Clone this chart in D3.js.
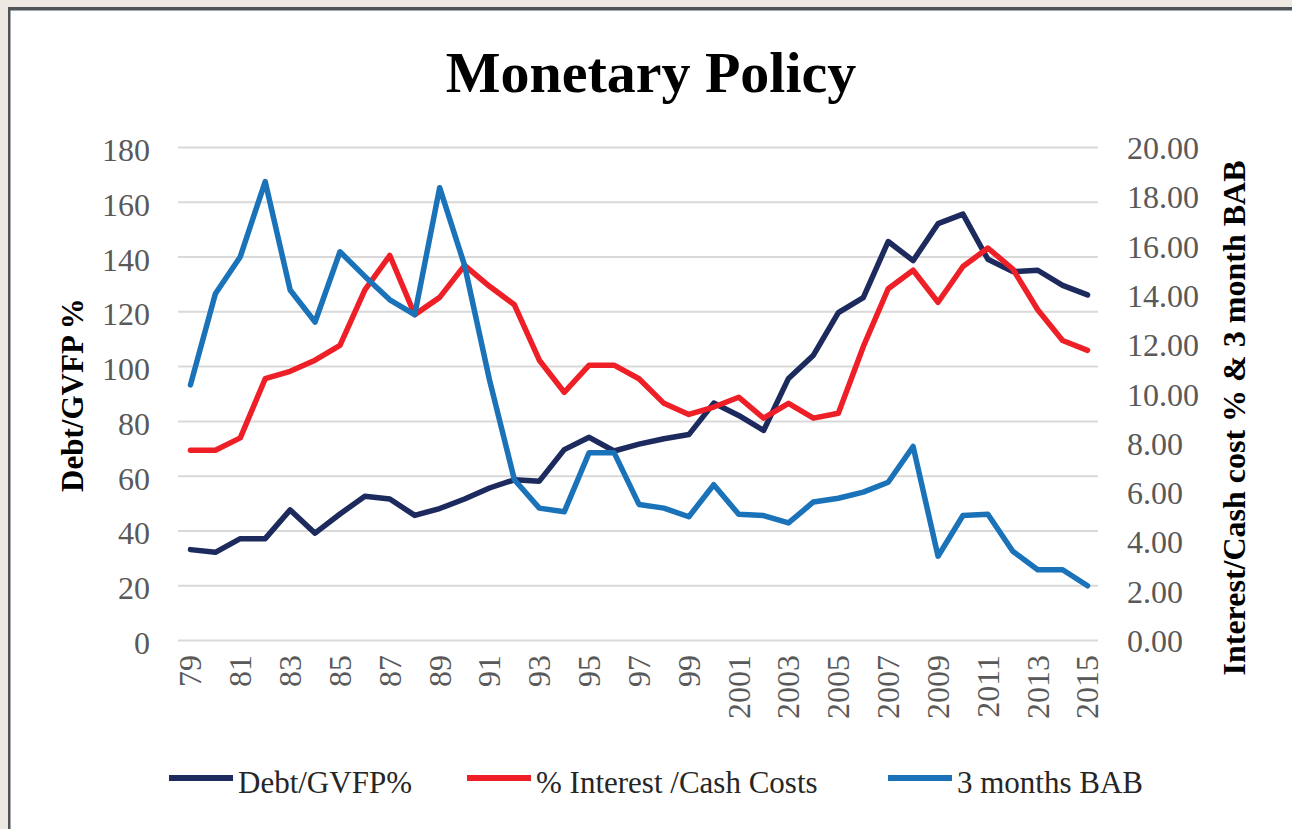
<!DOCTYPE html>
<html>
<head>
<meta charset="utf-8">
<script src="https://cdn.jsdelivr.net/npm/d3@7"></script>
<style>
  body { margin: 0; background: #ede8e1; }
  text { font-family: "Liberation Serif", "Times New Roman", serif; }
  .tick text { fill: #595959; font-size: 32px; }
  .grid line { stroke: #d9d9d9; stroke-width: 2; }
  .series { fill: none; stroke-width: 5.5; stroke-linejoin: round; stroke-linecap: round; }
</style>
</head>
<body>
<div id="chart"></div>
<script>
// ---- Data ----
const years = ["1979", "1980", "1981", "1982", "1983", "1984", "1985", "1986", "1987", "1988",
               "1989", "1990", "1991", "1992", "1993", "1994", "1995", "1996", "1997", "1998",
               "1999", "2000", "2001", "2002", "2003", "2004", "2005", "2006", "2007", "2008",
               "2009", "2010", "2011", "2012", "2013", "2014", "2015"];

// Debt/GVFP% (left axis)
const debt = [33, 32, 37, 37, 47.5, 39, 46, 52.5, 51.5, 45.5,
              48, 51.5, 55.5, 58.5, 58, 69.5, 74, 69, 71.5, 73.5,
              75, 86.5, 82, 76.5, 95.5, 104, 119.5, 125, 145.5, 138.5,
              152, 155.5, 139, 134.5, 135, 129.5, 126];

// % Interest /Cash Costs (right axis)
const interest = [7.7, 7.7, 8.2, 10.6, 10.9, 11.35, 11.95, 14.2, 15.6, 13.2,
                  13.9, 15.2, 14.35, 13.6, 11.35, 10.05, 11.15, 11.15, 10.6, 9.6,
                  9.15, 9.45, 9.85, 9.0, 9.6, 9.0, 9.2, 11.9, 14.25, 15.0,
                  13.7, 15.15, 15.9, 15.05, 13.4, 12.15, 11.75];

// 3 months BAB (right axis)
const bab = [10.35, 14.05, 15.55, 18.6, 14.2, 12.9, 15.75, 14.75, 13.8, 13.2,
             18.35, 15.2, 10.55, 6.5, 5.35, 5.2, 7.6, 7.6, 5.5, 5.35,
             5.0, 6.3, 5.1, 5.05, 4.75, 5.6, 5.75, 6.0, 6.4, 7.85,
             3.4, 5.05, 5.1, 3.6, 2.85, 2.85, 2.2];

const leftTicks = [0, 20, 40, 60, 80, 100, 120, 140, 160, 180];
const rightTicks = [0, 2, 4, 6, 8, 10, 12, 14, 16, 18, 20];
const xTicks = years.filter((y, i) => i % 2 === 0);

// ---- Layout ----
const W = 1292, H = 829;
const plot = { left: 178, right: 1098, top: 147, bottom: 640 };

const colors = { debt: "#1c2a5e", interest: "#ee1f26", bab: "#1a72b9" };

const svg = d3.select("#chart").append("svg")
    .attr("width", W)
    .attr("height", H);

// frame: beige margin, dark edge, white chart area
svg.append("rect").attr("width", W).attr("height", H).attr("fill", "#ede8e1");
svg.append("rect").attr("x", 8).attr("y", 7).attr("width", W - 8).attr("height", H - 7).attr("fill", "#4d5358");
svg.append("rect").attr("x", 10.5).attr("y", 10.5).attr("width", W - 10.5).attr("height", H - 10.5).attr("fill", "#fff");

// ---- Scales ----
const x = d3.scaleBand().domain(years).range([plot.left, plot.right + 2]);
const xc = d => x(d) + x.bandwidth() / 2;
const yLeft = d3.scaleLinear().domain([0, 180]).range([plot.bottom, plot.top]);
const yRight = d3.scaleLinear().domain([0, 20]).range([plot.bottom, plot.top]);

// gridlines
svg.append("g")
    .attr("class", "grid")
    .attr("transform", `translate(${plot.left},0)`)
    .call(d3.axisLeft(yLeft).tickValues(leftTicks).tickSize(-(plot.right - plot.left)).tickFormat(""))
    .call(g => g.select(".domain").remove());

// left axis labels
svg.append("g")
    .attr("transform", `translate(${plot.left},0)`)
    .call(d3.axisLeft(yLeft).tickValues(leftTicks).tickSize(0).tickPadding(28))
    .call(g => g.select(".domain").remove())
    .call(g => g.selectAll("text").attr("dy", "0.42em"));

// right axis labels
svg.append("g")
    .attr("transform", `translate(${plot.right},0)`)
    .call(d3.axisRight(yRight).tickValues(rightTicks).tickSize(0).tickPadding(29).tickFormat(d3.format(".2f")))
    .call(g => g.select(".domain").remove())
    .call(g => g.selectAll("text").attr("dy", "0.36em"));

// x axis labels (rotated)
svg.append("g")
    .attr("transform", `translate(0,${plot.bottom})`)
    .call(d3.axisBottom(x).tickValues(xTicks).tickSize(0)
        .tickFormat(d => +d < 2000 ? d.slice(2) : d))
    .call(g => g.select(".domain").remove())
    .call(g => g.selectAll("text")
        .attr("transform", "rotate(-90)")
        .attr("text-anchor", "end")
        .attr("x", -15)
        .attr("y", 0)
        .attr("dy", "0.34em"));

// ---- Lines ----
const lineLeft = d3.line().x((d, i) => xc(years[i])).y(d => yLeft(d));
const lineRight = d3.line().x((d, i) => xc(years[i])).y(d => yRight(d));

svg.append("path").datum(debt).attr("class", "series").attr("stroke", colors.debt).attr("d", lineLeft);
svg.append("path").datum(interest).attr("class", "series").attr("stroke", colors.interest).attr("d", lineRight);
svg.append("path").datum(bab).attr("class", "series").attr("stroke", colors.bab).attr("d", lineRight);

// ---- Titles ----
svg.append("text")
    .attr("x", 651).attr("y", 92)
    .attr("text-anchor", "middle")
    .style("font-size", "58px").style("font-weight", "bold")
    .text("Monetary Policy");

svg.append("text")
    .attr("transform", "translate(83,395) rotate(-90)")
    .attr("text-anchor", "middle")
    .style("font-size", "31px").style("font-weight", "bold")
    .text("Debt/GVFP %");

svg.append("text")
    .attr("transform", "translate(1245,418) rotate(-90)")
    .attr("text-anchor", "middle")
    .style("font-size", "32px").style("font-weight", "bold")
    .text("Interest/Cash cost % & 3 month BAB");

// ---- Legend ----
const legendItems = [
    { label: "Debt/GVFP%", color: colors.debt, x: 169 },
    { label: "% Interest /Cash Costs", color: colors.interest, x: 467 },
    { label: "3 months BAB", color: colors.bab, x: 888 }
];

const legend = svg.append("g").attr("transform", "translate(0,778)");
legend.selectAll("line")
    .data(legendItems)
    .join("line")
        .attr("x1", d => d.x).attr("x2", d => d.x + 64)
        .attr("y1", 0).attr("y2", 0)
        .attr("stroke", d => d.color)
        .attr("stroke-width", 6);
legend.selectAll("text")
    .data(legendItems)
    .join("text")
        .attr("x", d => d.x + 69)
        .attr("y", 15)
        .style("font-size", "31px")
        .style("fill", "#262626")
        .text(d => d.label);
</script>
</body>
</html>
